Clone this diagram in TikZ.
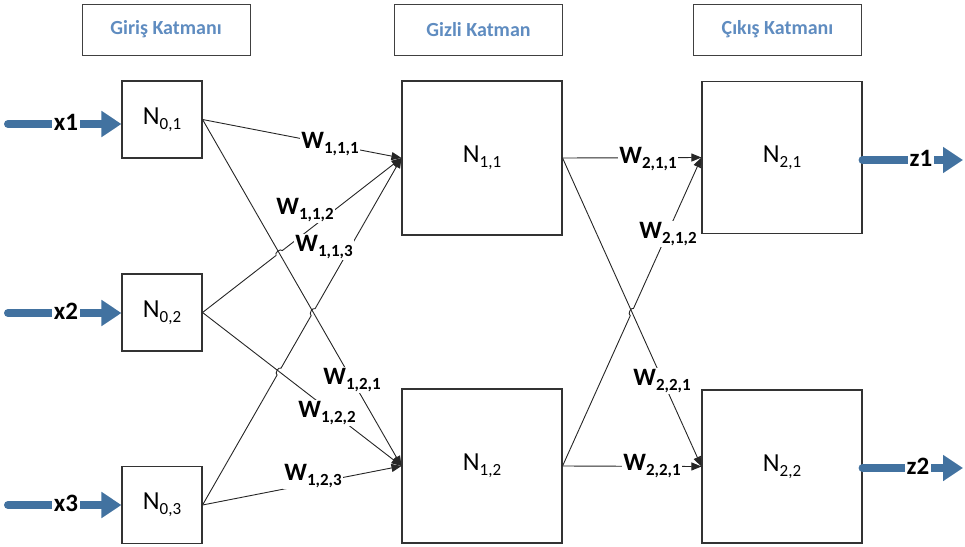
\documentclass[tikz,border=0pt]{standalone}
\usepackage{fontspec}
\setmainfont{Carlito}
\usetikzlibrary{arrows.meta,calc}
\definecolor{hdrblue}{RGB}{95,140,192}
\definecolor{arrblue}{RGB}{66,114,160}
% label with a lowered index
\newcommand{\idx}[2]{#1\raisebox{-5pt}{\fontsize{17}{17}\selectfont #2}}
\tikzset{
  header/.style={draw=black!75, line width=1pt, minimum width=168pt, minimum height=51pt,
    font=\fontsize{20}{20}\selectfont\bfseries, text=hdrblue},
  inbox/.style={draw=black!80, line width=1.1pt, minimum width=80pt, minimum height=77pt,
    font=\fontsize{26}{26}\selectfont},
  bigbox/.style={draw=black!80, line width=1.1pt, minimum width=160pt, minimum height=154pt,
    font=\fontsize{26}{26}\selectfont},
  wlabel/.style={fill=white, inner sep=1.5pt, font=\fontsize{25}{25}\selectfont\bfseries},
  iolabel/.style={fill=white, inner sep=1.5pt, font=\fontsize{25}{25}\selectfont\bfseries},
  link/.style={draw=black!85, line width=0.9pt},
  tiplink/.style={link, -{Triangle[length=10pt,width=8pt]}},
  bigarrow/.style={draw=arrblue, line width=8pt, line cap=round,
    -{Triangle[length=20pt,width=25pt]}},
}
\begin{document}
\begin{tikzpicture}[x=1pt,y=-1pt]
\useasboundingbox (0,0) rectangle (965,546);

% layer headings
\node[header] (h0) at (166,29.5) {Giriş Katmanı};
\node[header] (h1) at (478.5,29.5) {Gizli Katman};
\node[header] (h2) at (777.5,29.5) {Çıkış Katmanı};

% input layer
\node[inbox] (N01) at (162,119.5) {\idx{N}{0,1}};
\node[inbox] (N02) at (162,312.5) {\idx{N}{0,2}};
\node[inbox] (N03) at (162,505) {\idx{N}{0,3}};

% hidden layer
\node[bigbox] (N11) at (482,158) {\idx{N}{1,1}};
\node[bigbox] (N12) at (482,466) {\idx{N}{1,2}};

% output layer
\node[bigbox, minimum height=152pt] (N21) at (782,157.5) {\idx{N}{2,1}};
\node[bigbox, minimum height=153pt] (N22) at (782,466.5) {\idx{N}{2,2}};

% line crossings that get a small jump
\coordinate (c1) at (intersection of N02.east--N11.west and N01.east--N12.west);
\coordinate (c2) at (intersection of N03.east--N11.west and N01.east--N12.west);
\coordinate (c3) at (intersection of N03.east--N11.west and N02.east--N12.west);
\coordinate (c4) at (intersection of N12.east--N21.west and N11.east--N22.west);

% input -> hidden
\draw[tiplink] (N01.east) -- (N11.west);
\draw[tiplink] (N02.east) -- ($(c1)!4pt!(N02.east)$) to[bend left=90] ($(c1)!4pt!(N11.west)$) -- (N11.west);
\draw[tiplink] (N03.east) -- ($(c3)!4pt!(N03.east)$) to[bend left=90] ($(c3)!4pt!(c2)$)
  -- ($(c2)!4pt!(c3)$) to[bend left=90] ($(c2)!4pt!(N11.west)$) -- (N11.west);
\draw[tiplink] (N01.east) -- (N12.west);
\draw[tiplink] (N02.east) -- (N12.west);
\draw[tiplink] (N03.east) -- (N12.west);

% hidden -> output
\draw[tiplink] (N11.east) -- (N21.west);
\draw[tiplink] (N11.east) -- (N22.west);
\draw[tiplink] (N12.east) -- ($(c4)!4pt!(N12.east)$) to[bend left=90] ($(c4)!4pt!(N21.west)$) -- (N21.west);
\draw[tiplink] (N12.east) -- (N22.west);

% weight labels
\node[wlabel] (w111) at (330,144) {\idx{W}{1,1,1}};
\node[wlabel] (w112) at (305,210) {\idx{W}{1,1,2}};
\node[wlabel] (w113) at (324,247) {\idx{W}{1,1,3}};
\node[wlabel] (w121) at (352,380) {\idx{W}{1,2,1}};
\node[wlabel] (w122) at (327,413) {\idx{W}{1,2,2}};
\node[wlabel] (w123) at (313,476) {\idx{W}{1,2,3}};
\node[wlabel] (w211) at (648,159) {\idx{W}{2,1,1}};
\node[wlabel] (w212) at (668,234) {\idx{W}{2,1,2}};
\node[wlabel] (w221a) at (662,381) {\idx{W}{2,2,1}};
\node[wlabel] (w221b) at (652,466) {\idx{W}{2,2,1}};

% inputs and outputs
\coordinate (s1) at (8,124);
\coordinate (s2) at (8,313);
\coordinate (s3) at (8,505);
\draw[bigarrow] (s1) -- (s1 -| N01.west);
\draw[bigarrow] (s2) -- (s2 -| N02.west);
\draw[bigarrow] (s3) -- (s3 -| N03.west);
\node[iolabel] (x1) at (66,122) {x1};
\node[iolabel] (x2) at (66,311) {x2};
\node[iolabel] (x3) at (66,503) {x3};

\coordinate (e1) at (963,160);
\coordinate (e2) at (963,468);
\draw[bigarrow] (e1 -| N21.east) -- (e1);
\draw[bigarrow] (e2 -| N22.east) -- (e2);
\node[iolabel] (z1) at (921,158) {z1};
\node[iolabel] (z2) at (918,466) {z2};
\end{tikzpicture}
\end{document}
